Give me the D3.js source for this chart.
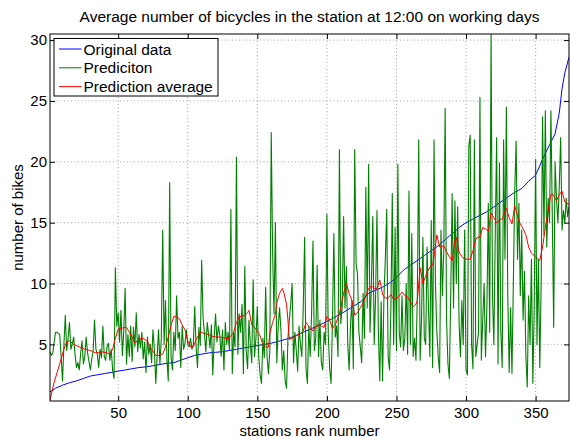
<!DOCTYPE html>
<html><head><meta charset="utf-8">
<script src="https://cdn.jsdelivr.net/npm/d3@7"></script>
<style>
body{margin:0;background:#fff}
svg{display:block}
text{font-family:"Liberation Sans",Arial,Helvetica,sans-serif;fill:#000}
</style>
</head><body>
<svg id="chart" width="571" height="437"></svg>
<script>
const titleText = "Average number of bicycles in the station at 12:00 on working days";
const xLabelText = "stations rank number";
const yLabelText = "number of bikes";
const legendLabels = ["Original data", "Prediciton", "Prediction average"];
const seriesColors = ["#0000ff", "#008000", "#ff0000"];
const xTicks = [50, 100, 150, 200, 250, 300, 350];
const yTicks = [5, 10, 15, 20, 25, 30];
const xDomain = [1, 374];
const yDomain = [0.35, 30.5];

// Original data (sorted station averages)
const originalStations = [1,5,10,15,20,25,30,35,40,45,50,55,60,65,70,75,80,85,90,95,100,105,110,115,120,125,130,135,140,145,150,155,160,165,170,175,180,185,190,195,200,205,210,215,220,225,230,235,240,245,250,255,260,265,270,275,280,285,290,295,300,305,310,315,320,325,330,335,340,345,350,355,360,364,367,369,371,374];
const originalValues = [1.1,1.4,1.65,1.85,2.0,2.2,2.4,2.5,2.6,2.7,2.8,2.9,3.0,3.1,3.15,3.25,3.35,3.45,3.5,3.7,3.9,4.1,4.2,4.3,4.35,4.4,4.5,4.6,4.7,4.8,4.9,5.0,5.1,5.25,5.4,5.6,5.85,6.1,6.35,6.6,6.9,7.2,7.5,7.85,8.2,8.55,9.2,9.45,9.7,10.05,10.5,11.1,11.5,11.9,12.3,12.7,13.1,13.6,14.1,14.6,15.0,15.3,15.6,15.9,16.3,16.7,17.1,17.5,17.8,18.4,18.9,20.2,21.4,22.3,24.0,26.0,27.3,28.6];

// Prediction, one value per station 1..374
const predictionValues = [
4.4,4.1,4.3,5.2,6.0,6.0,5.9,5.8,4.0,2.0,
5.0,7.4,4.5,5.5,6.8,4.6,5.0,5.6,4.2,3.1,
3.5,2.9,4.2,5.3,3.4,4.0,5.6,4.3,3.6,2.9,
3.8,4.5,7.0,4.6,4.2,3.1,4.6,3.9,6.5,4.0,
3.7,4.8,5.1,3.7,4.6,2.9,2.2,11.3,6.5,7.6,
5.2,7.8,4.1,6.1,9.6,3.4,5.8,4.0,6.5,3.6,
6.4,4.8,7.6,4.4,5.8,4.7,6.0,3.8,5.2,2.7,
5.6,4.2,5.0,3.5,6.2,4.6,1.8,4.0,6.2,3.4,
5.5,14.4,5.0,8.6,3.8,2.0,18.3,4.0,2.9,6.0,
4.5,9.0,5.5,6.0,3.1,6.5,4.6,5.1,6.2,5.0,
4.8,5.5,4.6,5.0,8.1,4.8,3.1,6.4,4.9,11.9,
7.2,5.9,4.4,6.8,5.8,4.7,6.6,2.5,5.6,7.5,
5.2,6.5,5.8,4.0,6.2,2.9,6.8,5.0,6.0,4.5,
16.1,2.6,6.0,4.8,20.4,4.2,7.5,6.0,8.3,2.6,
11.4,4.5,3.0,7.0,5.0,3.5,10.3,4.0,5.5,8.1,
4.0,2.5,1.8,5.5,3.9,9.7,4.0,2.6,4.5,22.4,
12.5,7.5,15.0,3.5,6.5,8.0,6.1,2.9,4.5,2.0,
1.4,5.5,7.0,8.3,10.0,3.5,6.0,4.5,2.8,6.5,
5.0,4.0,8.0,13.8,3.0,1.8,6.5,4.0,7.5,13.5,
4.5,5.5,11.5,4.0,7.0,3.5,2.9,6.0,5.0,15.7,
5.8,3.0,1.8,6.8,14.1,5.6,6.5,4.0,21.0,6.7,
8.1,15.5,8.0,11.4,5.0,2.9,6.7,8.6,3.0,21.0,
11.6,10.8,6.0,4.8,3.5,9.2,5.5,17.9,8.0,19.8,
6.0,10.0,15.5,5.0,9.0,16.0,6.0,2.0,8.5,2.0,
9.0,12.0,16.1,4.0,2.9,8.0,17.4,5.0,14.6,4.5,
19.8,6.0,4.8,9.0,4.5,5.5,10.0,4.2,17.6,5.0,
14.1,4.0,5.5,3.7,9.0,21.8,3.7,7.0,13.8,5.5,
5.0,13.0,8.0,4.0,15.2,3.1,21.8,10.0,6.1,4.0,
2.7,14.4,9.0,12.7,24.4,7.0,3.4,2.2,9.0,17.4,
8.0,16.8,10.0,16.3,6.7,4.0,8.6,5.0,14.4,2.9,
2.5,21.3,22.2,5.0,3.0,21.8,4.0,5.0,6.0,25.3,
3.7,7.0,10.0,4.0,8.0,16.6,6.0,30.5,9.0,5.0,
14.0,22.0,3.4,19.9,6.0,3.1,21.8,12.0,24.5,9.0,
2.7,8.0,2.6,10.0,17.6,21.7,12.0,16.6,9.0,14.4,
7.0,11.0,4.0,1.5,9.0,5.0,12.0,1.8,8.0,20.2,
5.0,12.0,3.1,10.0,23.7,14.0,24.2,13.0,17.0,15.0,
24.2,15.5,6.4,20.0,17.0,15.0,18.0,22.0,14.4,16.0,
15.0,17.0,15.5,16.3
];

// Prediction average
const averageStations = [1,4,8,11,13,15,18,22,26,30,34,38,42,44,46,48,50,53,56,58,60,62,65,68,71,74,77,80,82,84,86,88,90,92,94,96,98,100,102,104,106,109,112,115,118,121,124,127,129,131,133,135,137,139,141,143,144,146,148,150,152,154,156,158,159,161,163,164,166,168,169,171,172,173,175,178,181,183,185,187,190,192,194,196,198,200,202,204,206,208,210,212,214,216,218,220,222,224,226,228,230,232,234,236,238,240,242,244,246,248,250,252,254,256,258,260,262,264,265,267,269,271,272,274,276,277,279,281,284,286,288,290,292,293,295,297,299,301,303,305,307,308,310,312,314,316,318,320,322,324,326,329,331,333,335,337,339,341,343,345,347,350,353,355,357,359,361,362,364,365,367,369,371,374];
const averageValues = [0.4,1.9,3.4,4.6,5.2,5.3,5.0,4.8,4.6,4.5,4.3,4.4,4.3,4.2,4.6,5.5,6.25,6.35,6.4,6.0,5.6,5.1,5.45,5.5,5.25,4.6,4.1,4.1,4.2,4.8,5.6,6.6,7.3,7.25,7.1,6.6,6.2,5.3,4.8,4.8,5.4,6.0,5.9,5.8,5.65,5.6,5.6,5.5,5.45,5.7,6.0,6.8,7.3,7.3,7.4,7.6,7.8,6.6,6.4,6.1,5.7,5.0,4.8,4.75,5.9,6.8,7.5,8.4,9.2,9.6,9.3,8.3,7.0,5.4,5.5,5.7,5.9,6.1,6.8,6.5,6.1,6.4,6.7,6.5,6.4,7.3,7.0,6.3,6.6,7.2,8.0,9.2,10.0,9.2,8.6,7.4,7.6,8.0,8.4,9.0,9.6,9.8,9.6,9.6,10.3,9.1,8.8,8.8,9.1,8.7,8.75,9.0,9.3,9.0,8.9,8.5,8.1,8.3,8.6,11.3,10.0,10.6,10.9,11.35,11.5,12.2,14.0,13.0,13.1,12.6,12.2,11.9,13.5,13.8,12.6,12.2,12.0,12.0,12.0,12.7,13.6,13.8,13.8,14.6,14.5,14.3,15.8,15.4,15.0,15.2,15.3,16.2,15.4,14.9,16.4,15.5,14.9,14.5,14.0,13.0,12.5,12.2,11.9,13.0,14.6,16.0,17.3,17.4,17.0,16.8,17.3,17.6,16.7,16.5];

const W = 571, H = 437;
const plot = {left: 50, right: 569, top: 34, bottom: 401};
const fontSize = "15px";
const svg = d3.select("#chart");

const x = d3.scaleLinear().domain(xDomain).range([plot.left, plot.right]);
const y = d3.scaleLinear().domain(yDomain).range([plot.bottom, plot.top]);

svg.append("rect").attr("x", 0).attr("y", 0).attr("width", W).attr("height", H).attr("fill", "#fff");

svg.append("defs").append("clipPath").attr("id", "clip")
  .append("rect").attr("x", plot.left).attr("y", plot.top)
  .attr("width", plot.right - plot.left).attr("height", plot.bottom - plot.top);

// grid
const grid = svg.append("g").attr("stroke", "#8a8a8a").attr("stroke-width", 0.8)
  .attr("stroke-dasharray", "1,2.5");
xTicks.forEach(t => grid.append("line").attr("x1", x(t)).attr("x2", x(t))
  .attr("y1", plot.top).attr("y2", plot.bottom));
yTicks.forEach(t => grid.append("line").attr("y1", y(t)).attr("y2", y(t))
  .attr("x1", plot.left).attr("x2", plot.right));

// data lines
const stations = d3.range(1, predictionValues.length + 1);
const lineGen = d3.line().x(d => x(d[0])).y(d => y(d[1]));
const dataG = svg.append("g").attr("clip-path", "url(#clip)").attr("fill", "none");
const origPts = originalStations.map((s, i) => [s, originalValues[i]]);
const predPts = stations.map((s, i) => [s, predictionValues[i]]);
const avgPts = averageStations.map((s, i) => [s, averageValues[i]]);
[origPts, predPts, avgPts].forEach((pts, i) => {
  dataG.append("path").attr("d", lineGen(pts)).attr("stroke", seriesColors[i])
    .attr("stroke-width", i === 1 ? 1.1 : 1).attr("stroke-linejoin", "round");
});

// axes (Matlab style: inward ticks on all sides)
const tickLen = 5;
const axG = svg.append("g");
axG.append("g").attr("transform", `translate(0,${plot.bottom})`)
  .call(d3.axisBottom(x).tickValues(xTicks).tickSizeInner(-tickLen).tickSizeOuter(0).tickPadding(6))
  .call(g => g.select(".domain").remove());
axG.append("g").attr("transform", `translate(0,${plot.top})`)
  .call(d3.axisTop(x).tickValues(xTicks).tickSizeInner(-tickLen).tickSizeOuter(0).tickFormat(""))
  .call(g => g.select(".domain").remove());
axG.append("g").attr("transform", `translate(${plot.left},0)`)
  .call(d3.axisLeft(y).tickValues(yTicks).tickSizeInner(-tickLen).tickSizeOuter(0).tickPadding(3))
  .call(g => g.select(".domain").remove());
axG.append("g").attr("transform", `translate(${plot.right},0)`)
  .call(d3.axisRight(y).tickValues(yTicks).tickSizeInner(-tickLen).tickSizeOuter(0).tickFormat(""))
  .call(g => g.select(".domain").remove());
axG.selectAll(".tick line").attr("stroke", "#000");
axG.selectAll(".tick text").attr("font-size", fontSize)
  .attr("font-family", '"Liberation Sans",Arial,Helvetica,sans-serif').attr("fill", "#000");

svg.append("rect").attr("x", plot.left).attr("y", plot.top)
  .attr("width", plot.right - plot.left).attr("height", plot.bottom - plot.top)
  .attr("fill", "none").attr("stroke", "#000").attr("stroke-width", 1);

// title & labels
svg.append("text").attr("x", (plot.left + plot.right) / 2).attr("y", 22)
  .attr("text-anchor", "middle").attr("font-size", "15.5px").text(titleText);
svg.append("text").attr("x", (plot.left + plot.right) / 2).attr("y", 435.5)
  .attr("text-anchor", "middle").attr("font-size", fontSize).text(xLabelText);
svg.append("text").attr("transform", `translate(23,${(plot.top + plot.bottom) / 2}) rotate(-90)`)
  .attr("text-anchor", "middle").attr("font-size", fontSize).text(yLabelText);

// legend
const lg = svg.append("g");
lg.append("rect").attr("x", 54).attr("y", 38.5).attr("width", 164).attr("height", 57.5)
  .attr("fill", "#fff").attr("stroke", "#000").attr("stroke-width", 1);
legendLabels.forEach((lab, i) => {
  const cy = 49 + i * 18.8;
  lg.append("line").attr("x1", 59).attr("x2", 81.5).attr("y1", cy).attr("y2", cy)
    .attr("stroke", seriesColors[i]).attr("stroke-width", 1);
  lg.append("text").attr("x", 83.5).attr("y", cy).attr("dy", "0.36em")
    .attr("font-size", "15.5px").text(lab);
});
</script>
</body></html>
